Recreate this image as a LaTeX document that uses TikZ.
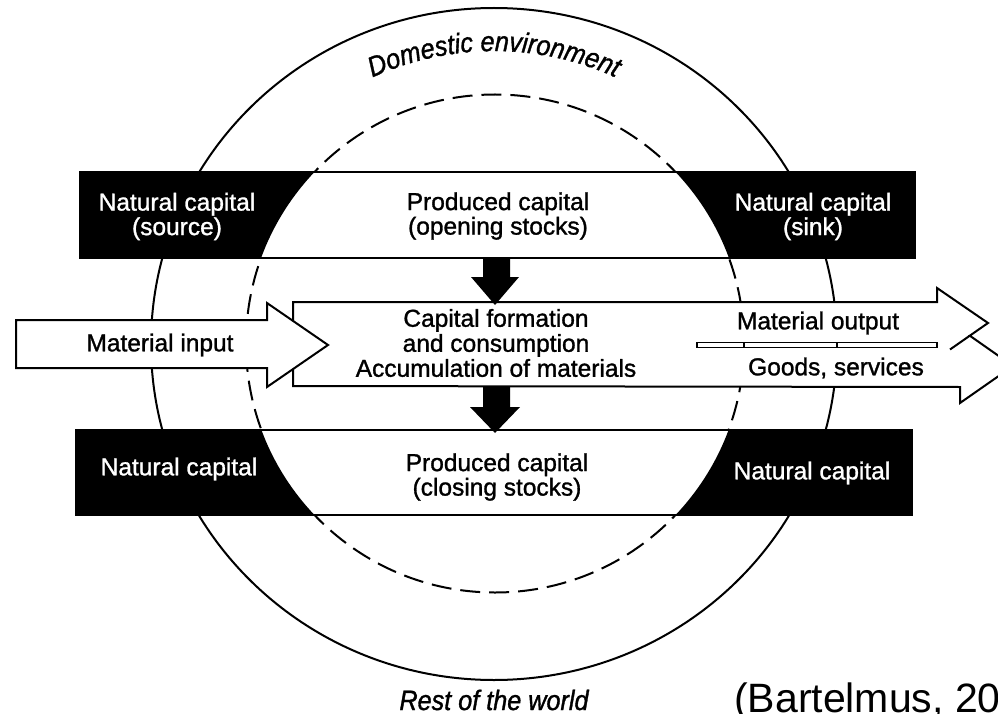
\documentclass[tikz,border=0pt]{standalone}
\usepackage{fontspec}
\setmainfont{Liberation Sans}
\newfontfamily\boxfont[FakeBold=1.2]{Liberation Sans}
\newfontfamily\lab[FakeStretch=0.9,FakeBold=1.2]{Liberation Sans}
\usetikzlibrary{decorations.text}
\begin{document}
\begin{tikzpicture}[x=1pt,y=-1pt, line join=miter,
  box/.style={font=\boxfont\fontsize{24.5}{24.5}\selectfont, align=center, inner sep=0pt},
  wbox/.style={box, text=white},
  ring/.style={line width=2pt},
  dring/.style={line width=2pt, dash pattern=on 20pt off 9pt},
  bandline/.style={line width=2.2pt},
  flow/.style={line width=2pt, fill=white},
  blockdown/.style={fill=black}]
\useasboundingbox (0,0) rectangle (998,714);
\fill[white] (0,0) rectangle (998,714);
% circles
\draw[ring] (494,344) ellipse [x radius=343, y radius=336];
\draw[dring] (495,343.5) circle [radius=249];
% top band
\fill[white] (80,172) rectangle (915,258);
\begin{scope}
  \clip (80,172) rectangle (915,258);
  \fill[black, even odd rule] (80,172) rectangle (915,258) (495,343.5) circle [radius=249];
\end{scope}
\draw[bandline] (80,172) rectangle (915,258);
% bottom band
\fill[white] (76,430) rectangle (912,515);
\begin{scope}
  \clip (76,430) rectangle (912,515);
  \fill[black, even odd rule] (76,430) rectangle (912,515) (495,343.5) circle [radius=249];
\end{scope}
\draw[bandline] (76,430) rectangle (912,515);
% middle double arrow
\draw[flow] (293,302) -- (937,302) -- (937,288) -- (988,323) -- (969.8,335.7) -- (1013,366) -- (960,403) -- (960,387) -- (293,386) -- cycle;
\draw[line width=2pt] (969.8,335.7) -- (950,349.5);
\draw[line width=1.5pt, fill=white] (697,342.5) rectangle (937,347.5);
\draw[line width=1.2pt] (744,342.5) -- (744,347.5) (837,342.5) -- (837,347.5);
% input arrow
\draw[flow] (16,320) -- (267,320) -- (267,303) -- (328,345) -- (267,387) -- (267,368) -- (16,368) -- cycle;
% down arrows
\fill[blockdown] (483,257) -- (510,257) -- (510,277) -- (519,277) -- (495,305) -- (471,277) -- (483,277) -- cycle;
\fill[blockdown] (483,386) -- (510,386) -- (510,407) -- (520,407) -- (495,433) -- (470,407) -- (483,407) -- cycle;
% texts
\node[wbox] (nsrc) at (177,216.5) {Natural capital\\(source)};
\node[wbox] (nsink) at (813,216.5) {Natural capital\\(sink)};
\node[box] (popen) at (498,216) {Produced capital\\(opening stocks)};
\node[box, font=\boxfont\fontsize{24.5}{25}\selectfont] (cform) at (496,343) {Capital formation\\and consumption\\Accumulation of materials};
\node[box] (minput) at (160,345) {Material input};
\node[box] (moutput) at (818,323) {Material output};
\node[box] (goods) at (836,368) {Goods, services};
\node[wbox] (nbl) at (179,469) {Natural capital};
\node[wbox] (nbr) at (812,473) {Natural capital};
\node[box] (pclose) at (497,477) {Produced capital\\(closing stocks)};
\path[decorate, decoration={text along path, text align=center,
  text={|\lab\itshape\fontsize{28}{28}\selectfont|Domestic environment}}]
  (347.5,90.3) arc[start angle=-120, end angle=-60, radius=293];
\node[font=\lab\itshape\fontsize{28}{28}\selectfont, anchor=base, inner sep=0pt] (rest) at (494,710) {Rest of the world};
\node[font=\fontsize{41}{41}\selectfont, anchor=base west, inner sep=0pt] (cite) at (734,712) {(Bartelmus, 20};
\end{tikzpicture}
\end{document}
